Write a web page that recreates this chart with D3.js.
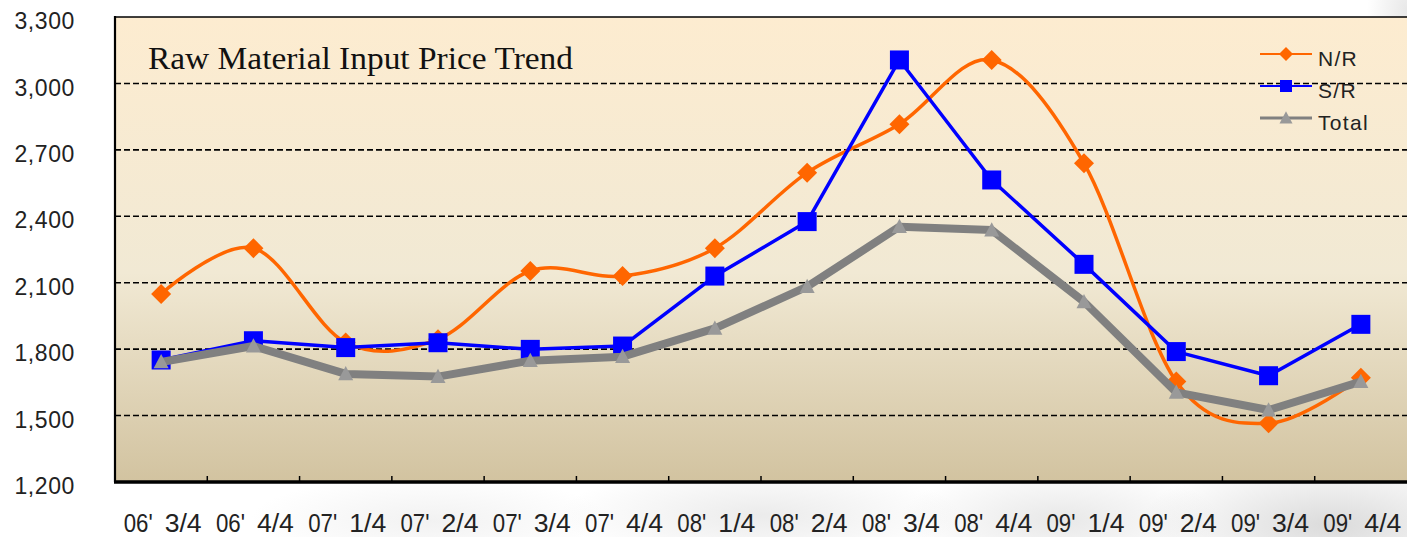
<!DOCTYPE html>
<html>
<head>
<meta charset="utf-8">
<script src="https://cdn.jsdelivr.net/npm/d3@7"></script>
<style>
    body { margin: 0; background: #fff; }
    svg { display: block; }
</style>
</head>
<body>
<div id="chart"></div>
<script>

//  values

var years = ["06'", "06'", "07'", "07'", "07'", "07'", "08'", "08'", "08'", "08'", "09'", "09'", "09'", "09'"];
var quarters = ["3/4", "4/4", "1/4", "2/4", "3/4", "4/4", "1/4", "2/4", "3/4", "4/4", "1/4", "2/4", "3/4", "4/4"];
var categories = years.map(function(y, i) { return y + ' ' + quarters[i]; });

var nr = [2049, 2256, 1830, 1845, 2153, 2130, 2256, 2597, 2816, 3106, 2639, 1654, 1465, 1671];
var sr = [1751, 1838, 1807, 1829, 1799, 1814, 2130, 2376, 3106, 2564, 2183, 1789, 1680, 1912];
var total = [1742, 1814, 1688, 1676, 1748, 1766, 1894, 2082, 2353, 2338, 2014, 1605, 1525, 1653];

var yTicks = [1200, 1500, 1800, 2100, 2400, 2700, 3000, 3300];
var seriesNames = ['N/R', 'S/R', 'Total'];

var width = 1407,
    height = 537;

var plot = { left: 115, top: 17, right: 1407, bottom: 482 };

var colors = {
    'nr' : '#ff6600',
    'sr' : '#0000ff',
    'total' : '#808080',
    'totalMarker' : '#999999'
};

var formats = {
    'thousands' : d3.format(",")
};


var svg = d3.select('#chart')
    .append('svg')
    .attr('width', width)
    .attr('height', height);

var defs = svg.append('defs');

var x = d3.scaleBand()
    .domain(categories)
    .range([plot.left, plot.right]);

var y = d3.scaleLinear()
    .domain([1200, 3300])
    .range([plot.bottom, plot.top]);

drawBackground();
drawGrid();
drawAxes();

drawSeries(nr, colors.nr, 3.5, d3.curveCatmullRom.alpha(0), 'diamond');
drawSeries(sr, colors.sr, 3.5, d3.curveLinear, 'square');
drawSeries(total, colors.total, 8, d3.curveLinear, 'triangle');

drawTitle();
drawLegend();



function drawBackground() {

    //  grey smudges of the photo behind the chart
    var blobs = [
        { cx: 1330, cy: 525, rx: 190, ry: 70, o: 0.55 },
        { cx: 1060, cy: 520, rx: 160, ry: 55, o: 0.35 },
        { cx: 760, cy: 515, rx: 200, ry: 50, o: 0.3 },
        { cx: 430, cy: 520, rx: 180, ry: 45, o: 0.2 },
        { cx: 1407, cy: 10, rx: 40, ry: 60, o: 0.35 }
    ];

    var rg = defs.append('radialGradient').attr('id', 'smudge');
    rg.append('stop').attr('offset', '0%').attr('stop-color', '#bdbdbd').attr('stop-opacity', 1);
    rg.append('stop').attr('offset', '100%').attr('stop-color', '#bdbdbd').attr('stop-opacity', 0);

    svg.selectAll('.smudge')
        .data(blobs)
        .enter()
        .append('ellipse')
        .attr('class', 'smudge')
        .attr('cx', function(d) { return d.cx; })
        .attr('cy', function(d) { return d.cy; })
        .attr('rx', function(d) { return d.rx; })
        .attr('ry', function(d) { return d.ry; })
        .attr('fill', 'url(#smudge)')
        .attr('opacity', function(d) { return d.o; });

    var lg = defs.append('linearGradient')
        .attr('id', 'plotFill')
        .attr('x1', 0).attr('y1', 0)
        .attr('x2', 0).attr('y2', 1);

    lg.append('stop').attr('offset', '0%').attr('stop-color', '#fdecd0');
    lg.append('stop').attr('offset', '55%').attr('stop-color', '#f1e9d4');
    lg.append('stop').attr('offset', '100%').attr('stop-color', '#d2c3a0');

    svg.append('rect')
        .attr('x', plot.left)
        .attr('y', plot.top)
        .attr('width', plot.right - plot.left)
        .attr('height', plot.bottom - plot.top)
        .attr('fill', 'url(#plotFill)');
}


function drawGrid() {

    svg.append('g')
        .selectAll('line')
        .data(yTicks.slice(1, -1))
        .enter()
        .append('line')
        .attr('x1', plot.left)
        .attr('x2', plot.right)
        .attr('y1', function(d) { return y(d); })
        .attr('y2', function(d) { return y(d); })
        .attr('stroke', '#000')
        .attr('stroke-width', 1.6)
        .attr('stroke-dasharray', '6,3');

    //  top border
    svg.append('line')
        .attr('x1', plot.left).attr('x2', plot.right)
        .attr('y1', y(3300)).attr('y2', y(3300))
        .attr('stroke', '#000')
        .attr('stroke-width', 1.5);
}


function drawAxes() {

    var yAxis = d3.axisLeft(y)
        .tickValues(yTicks)
        .tickSize(0)
        .tickPadding(40)
        .tickFormat(formats.thousands);

    var gy = svg.append('g')
        .attr('transform', 'translate(' + plot.left + ',0)')
        .call(yAxis);

    gy.select('.domain').remove();

    gy.selectAll('text')
        .attr('dy', '0.68em')
        .attr('y', -4)
        .attr('fill', '#222')
        .style('font-family', '"Liberation Sans", Arial, sans-serif')
        .style('font-size', '23px')
        .style('letter-spacing', '0.6px');

    svg.append('line')
        .attr('x1', plot.left).attr('x2', plot.left)
        .attr('y1', plot.top - 1).attr('y2', plot.bottom)
        .attr('stroke', '#000')
        .attr('stroke-width', 2.2);

    //  tick marks between categories, pointing up
    var bounds = categories.slice(1).map(function(c) { return x(c); });

    svg.append('g')
        .selectAll('line')
        .data(bounds)
        .enter()
        .append('line')
        .attr('x1', function(d) { return d; })
        .attr('x2', function(d) { return d; })
        .attr('y1', plot.bottom)
        .attr('y2', plot.bottom - 6)
        .attr('stroke', '#000')
        .attr('stroke-width', 1.5);

    svg.append('line')
        .attr('x1', plot.left - 1).attr('x2', plot.right)
        .attr('y1', plot.bottom).attr('y2', plot.bottom)
        .attr('stroke', '#000')
        .attr('stroke-width', 3.5);

    var labels = svg.append('g')
        .selectAll('g')
        .data(categories)
        .enter()
        .append('g')
        .attr('transform', function(d) { return 'translate(' + (x(d) + x.bandwidth() / 2) + ',532)'; })
        .style('font-family', '"Liberation Sans", Arial, sans-serif')
        .style('font-size', '25px')
        .attr('fill', '#222');

    labels.append('text')
        .attr('x', -23)
        .attr('text-anchor', 'middle')
        .attr('textLength', 29)
        .attr('lengthAdjust', 'spacingAndGlyphs')
        .text(function(d, i) { return years[i]; });

    labels.append('text')
        .attr('x', 22)
        .attr('text-anchor', 'middle')
        .attr('textLength', 37)
        .attr('lengthAdjust', 'spacingAndGlyphs')
        .text(function(d, i) { return quarters[i]; });
}


function markerPath(shape, size) {

    var h = size / 2;

    if (shape == 'diamond') {
        return 'M0,' + (-h) + 'L' + h + ',0L0,' + h + 'L' + (-h) + ',0Z';
    } else if (shape == 'square') {
        return 'M' + (-h) + ',' + (-h) + 'H' + h + 'V' + h + 'H' + (-h) + 'Z';
    } else {
        return 'M0,' + (-h * 1.05) + 'L' + h + ',' + (h * 0.85) + 'L' + (-h) + ',' + (h * 0.85) + 'Z';
    }
}


function drawSeries(values, color, lineWidth, curve, shape) {

    var points = values.map(function(v, i) {
        return [x(categories[i]) + x.bandwidth() / 2, y(v)];
    });

    var line = d3.line().curve(curve);

    svg.append('path')
        .attr('d', line(points))
        .attr('fill', 'none')
        .attr('stroke', color)
        .attr('stroke-width', lineWidth)
        .attr('stroke-linejoin', 'round');

    var sizes = { 'diamond' : 20, 'square' : 19, 'triangle' : 15 };
    var fill = shape == 'triangle' ? colors.totalMarker : color;

    svg.append('g')
        .selectAll('path')
        .data(points)
        .enter()
        .append('path')
        .attr('transform', function(d) { return 'translate(' + d[0] + ',' + d[1] + ')'; })
        .attr('d', markerPath(shape, sizes[shape]))
        .attr('fill', fill);
}


function drawTitle() {

    svg.append('text')
        .attr('x', 148)
        .attr('y', 69)
        .attr('textLength', 425)
        .attr('lengthAdjust', 'spacingAndGlyphs')
        .attr('fill', '#111')
        .style('font-family', '"Liberation Serif", "Times New Roman", serif')
        .style('font-size', '31px')
        .text('Raw Material Input Price Trend');
}


function drawLegend() {

    var rows = [
        { name: seriesNames[0], color: colors.nr, marker: colors.nr, shape: 'diamond', size: 14, w: 2.2 },
        { name: seriesNames[1], color: colors.sr, marker: colors.sr, shape: 'square', size: 12, w: 2.2 },
        { name: seriesNames[2], color: colors.total, marker: colors.totalMarker, shape: 'triangle', size: 13, w: 3 }
    ];

    var legend = svg.append('g')
        .selectAll('g')
        .data(rows)
        .enter()
        .append('g')
        .attr('transform', function(d, i) { return 'translate(1260,' + (54 + i * 32) + ')'; });

    legend.append('line')
        .attr('x1', 0).attr('x2', 52)
        .attr('stroke', function(d) { return d.color; })
        .attr('stroke-width', function(d) { return d.w; });

    legend.append('path')
        .attr('transform', 'translate(26,0)')
        .attr('d', function(d) { return markerPath(d.shape, d.size); })
        .attr('fill', function(d) { return d.marker; });

    legend.append('text')
        .attr('x', 58)
        .attr('y', 12)
        .attr('fill', '#222')
        .style('font-family', '"Liberation Sans", Arial, sans-serif')
        .style('font-size', '21px')
        .style('letter-spacing', '1.3px')
        .text(function(d) { return d.name; });
}

</script>
</body>
</html>
